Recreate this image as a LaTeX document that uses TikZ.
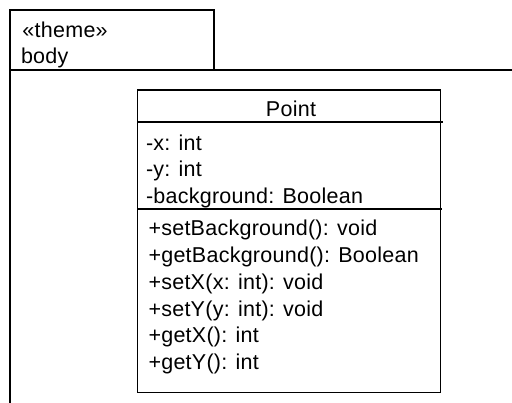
\documentclass[tikz,border=0pt]{standalone}
\usepackage{fontspec}
\setmainfont[LetterSpace=1.2]{Liberation Sans}
\begin{document}
\begin{tikzpicture}[x=1pt,y=-1pt,
  frame/.style={draw=black,line width=1.5pt},
  txt/.style={anchor=base west,inner sep=0pt,outer sep=0pt,font=\fontsize{21.5}{26}\selectfont},
  title/.style={anchor=base,inner sep=0pt,outer sep=0pt,font=\fontsize{21.5}{26}\selectfont}]
\useasboundingbox (0,0) rectangle (512,403);

% package tab and body
\draw[frame] (10,70) rectangle (214,10);
\draw[frame] (512,70) -- (10,70) -- (10,403);
\node[txt] (stereo) at (22.5,37.5) {«theme»};
\node[txt] (pkg) at (21,64) {body};

% class box
\draw[frame] (137.5,90) rectangle (440.5,392.5);
\draw[frame] (137.5,122) -- (442.5,122);
\draw[frame] (137.5,209) -- (442,209);
\node[title] (cls) at (291,116.5) {Point};

% attributes
\node[txt] (a1) at (146,150.5) {-x: int};
\node[txt] (a2) at (146,177) {-y: int};
\node[txt] (a3) at (146,203.2) {-background: Boolean};

% operations
\node[txt] (m1) at (148.5,236) {+setBackground(): void};
\node[txt] (m2) at (148.5,263) {+getBackground(): Boolean};
\node[txt] (m3) at (148.5,290) {+setX(x: int): void};
\node[txt] (m4) at (148.5,316.5) {+setY(y: int): void};
\node[txt] (m5) at (148.5,343) {+getX(): int};
\node[txt] (m6) at (148.5,370) {+getY(): int};
\end{tikzpicture}
\end{document}
